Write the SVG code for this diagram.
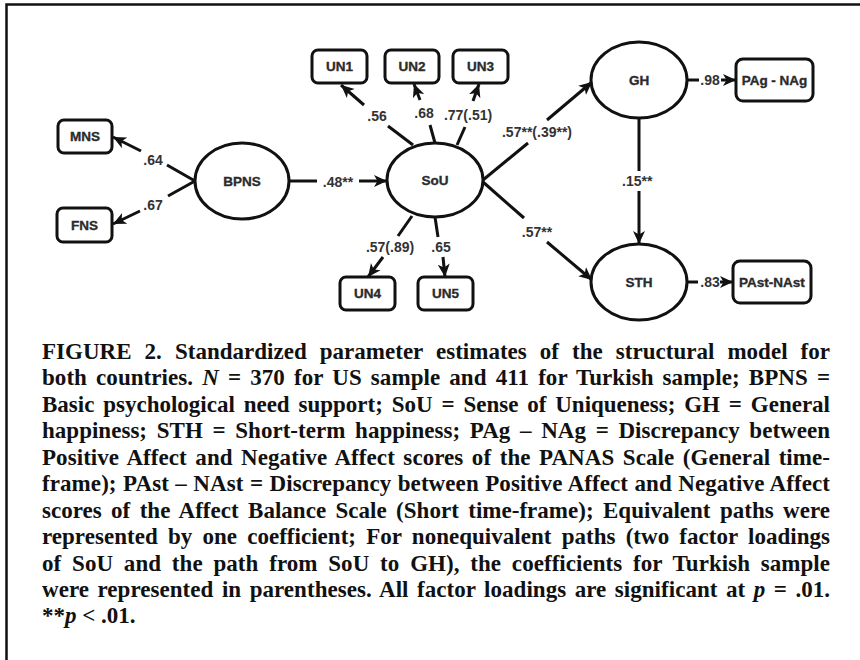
<svg xmlns="http://www.w3.org/2000/svg" width="860" height="660" viewBox="0 0 860 660">
  <style>
    .frame { stroke: #111; stroke-width: 2.5; fill: none; }
    .node ellipse, .node rect { fill: #fff; stroke: #111; stroke-width: 3; }
    .node text { font-family: "Liberation Sans", Arial, sans-serif; font-weight: bold; font-size: 13.5px; fill: #2b2b2b; stroke: #2b2b2b; stroke-width: 0.35; text-anchor: middle; dominant-baseline: central; }
    .edges line { stroke: #111; stroke-width: 3; stroke-linecap: butt; }
    .edges .arrow { marker-end: url(#head); }
    .elabel { font-family: "Liberation Sans", Arial, sans-serif; font-weight: bold; font-size: 14px; fill: #333; text-anchor: middle; dominant-baseline: central; }
    .caption { font-family: "Liberation Serif", "Times New Roman", serif; font-weight: bold; font-size: 23px; fill: #111; }
    .caption .it { font-style: italic; }
  </style>
  <defs>
    <marker id="head" markerUnits="userSpaceOnUse" markerWidth="16" markerHeight="16" refX="13" refY="6.5" orient="auto">
      <path d="M0,0.5 L13,6.5 L0,12.5 L3.5,6.5 Z" fill="#111"/>
    </marker>
  </defs>

  <!-- outer frame: top and left rules -->
  <path class="frame" d="M6.5,660 V4.5 H860"/>

  <!-- connectors -->
  <g id="edges" class="edges">
    <!-- BPNS -> MNS -->
    <line x1="195" y1="181" x2="167" y2="165"/>
    <line class="arrow" x1="141" y1="151" x2="113" y2="137"/>
    <!-- BPNS -> FNS -->
    <line x1="195" y1="181" x2="168" y2="196"/>
    <line class="arrow" x1="140" y1="211" x2="113" y2="224"/>
    <!-- BPNS -> SoU -->
    <line x1="290" y1="181" x2="317" y2="181"/>
    <line class="arrow" x1="359" y1="181" x2="387" y2="181"/>
    <!-- SoU -> UN1 -->
    <line x1="413" y1="145" x2="388" y2="126"/>
    <line class="arrow" x1="364" y1="105" x2="341" y2="85"/>
    <!-- SoU -> UN2 -->
    <line x1="435" y1="143" x2="430" y2="125"/>
    <line class="arrow" x1="420" y1="100" x2="414" y2="84"/>
    <!-- SoU -> UN3 -->
    <line x1="457" y1="145" x2="465" y2="127"/>
    <line class="arrow" x1="473" y1="101" x2="479" y2="84"/>
    <!-- SoU -> GH -->
    <line x1="483" y1="180" x2="528" y2="143"/>
    <line class="arrow" x1="547" y1="120" x2="592" y2="82"/>
    <!-- SoU -> STH -->
    <line x1="483" y1="182" x2="524" y2="218"/>
    <line class="arrow" x1="547" y1="242" x2="592" y2="280"/>
    <!-- GH -> STH -->
    <line x1="639" y1="118" x2="639" y2="171"/>
    <line class="arrow" x1="639" y1="191" x2="639" y2="244"/>
    <!-- GH -> PAg - NAg -->
    <line x1="687" y1="80" x2="699" y2="80"/>
    <line class="arrow" x1="721" y1="80" x2="736" y2="80"/>
    <!-- STH -> PAst-NAst -->
    <line x1="687" y1="282" x2="698" y2="282"/>
    <line class="arrow" x1="720" y1="282" x2="733" y2="282"/>
    <!-- SoU -> UN4 -->
    <line x1="412" y1="216" x2="398" y2="236"/>
    <line class="arrow" x1="383" y1="257" x2="368" y2="277"/>
    <!-- SoU -> UN5 -->
    <line x1="435" y1="217" x2="438" y2="237"/>
    <line class="arrow" x1="443" y1="257" x2="445" y2="277"/>

    <!-- path coefficients -->
    <text class="elabel" x="153" y="160">.64</text>
    <text class="elabel" x="153" y="205">.67</text>
    <text class="elabel" x="338" y="182">.48**</text>
    <text class="elabel" x="377" y="116">.56</text>
    <text class="elabel" x="424" y="113">.68</text>
    <text class="elabel" x="468" y="115">.77(.51)</text>
    <text class="elabel" x="537" y="132">.57**(.39**)</text>
    <text class="elabel" x="537" y="232">.57**</text>
    <text class="elabel" x="622" y="181" style="text-anchor:start">.15**</text>
    <text class="elabel" x="710" y="80">.98</text>
    <text class="elabel" x="710" y="282">.83</text>
    <text class="elabel" x="390" y="247">.57(.89)</text>
    <text class="elabel" x="441" y="247">.65</text>
  </g>

  <!-- latent variables -->
  <g id="BPNS" class="node"><ellipse cx="242" cy="181" rx="47" ry="38"/><text x="242" y="181">BPNS</text></g>
  <g id="SoU" class="node"><ellipse cx="435" cy="180" rx="48" ry="37"/><text x="435" y="180">SoU</text></g>
  <g id="GH" class="node"><ellipse cx="639" cy="80" rx="48" ry="38"/><text x="639" y="80">GH</text></g>
  <g id="STH" class="node"><ellipse cx="639" cy="282" rx="48" ry="38"/><text x="639" y="282">STH</text></g>

  <!-- observed indicators -->
  <g id="MNS" class="node"><rect x="58" y="120" width="54" height="33" rx="6"/><text x="85" y="136.5">MNS</text></g>
  <g id="FNS" class="node"><rect x="57" y="208" width="55" height="34" rx="6"/><text x="84.5" y="225">FNS</text></g>
  <g id="UN1" class="node"><rect x="312" y="50" width="55" height="33" rx="6"/><text x="339.5" y="66.5">UN1</text></g>
  <g id="UN2" class="node"><rect x="385" y="50" width="54" height="33" rx="6"/><text x="412" y="66.5">UN2</text></g>
  <g id="UN3" class="node"><rect x="453" y="50" width="55" height="33" rx="6"/><text x="480.5" y="66.5">UN3</text></g>
  <g id="UN4" class="node"><rect x="340" y="277" width="55" height="33" rx="6"/><text x="367.5" y="293.5">UN4</text></g>
  <g id="UN5" class="node"><rect x="418" y="277" width="55" height="33" rx="6"/><text x="445.5" y="293.5">UN5</text></g>
  <g id="PAg-NAg" class="node"><rect x="736" y="59" width="77" height="42" rx="7"/><text x="774.5" y="80">PAg - NAg</text></g>
  <g id="PAst-NAst" class="node"><rect x="733" y="261" width="78" height="42" rx="7"/><text x="772" y="282">PAst-NAst</text></g>

  <!-- figure caption, justified lines: word-spacing spreads each line, textLength trims the rest -->
  <g id="caption" class="caption">
    <text x="42" y="359" word-spacing="7.3" textLength="788" lengthAdjust="spacing">FIGURE 2. Standardized parameter estimates of the structural model for</text>
    <text x="42" y="385.4" word-spacing="3.3" textLength="788" lengthAdjust="spacing">both countries. <tspan class="it">N</tspan> = 370 for US sample and 411 for Turkish sample; BPNS =</text>
    <text x="42" y="411.9" word-spacing="3.1" textLength="788" lengthAdjust="spacing">Basic psychological need support; SoU = Sense of Uniqueness; GH = General</text>
    <text x="42" y="438.3" word-spacing="3.9" textLength="788" lengthAdjust="spacing">happiness; STH = Short-term happiness; PAg – NAg = Discrepancy between</text>
    <text x="42" y="464.8" word-spacing="2.7" textLength="788" lengthAdjust="spacing">Positive Affect and Negative Affect scores of the PANAS Scale (General time-</text>
    <text x="42" y="491.2" word-spacing="0.6" textLength="788" lengthAdjust="spacing">frame); PAst – NAst = Discrepancy between Positive Affect and Negative Affect</text>
    <text x="42" y="517.7" word-spacing="3.6" textLength="788" lengthAdjust="spacing">scores of the Affect Balance Scale (Short time-frame); Equivalent paths were</text>
    <text x="42" y="544.1" word-spacing="4.4" textLength="788" lengthAdjust="spacing">represented by one coefficient; For nonequivalent paths (two factor loadings</text>
    <text x="42" y="570.6" word-spacing="5" textLength="788" lengthAdjust="spacing">of SoU and the path from SoU to GH), the coefficients for Turkish sample</text>
    <text x="42" y="597" word-spacing="2.7" textLength="788" lengthAdjust="spacing">were represented in parentheses. All factor loadings are significant at <tspan class="it">p</tspan> = .01.</text>
    <text x="42" y="623.4">**<tspan class="it">p</tspan> &lt; .01.</text>
  </g>
</svg>
